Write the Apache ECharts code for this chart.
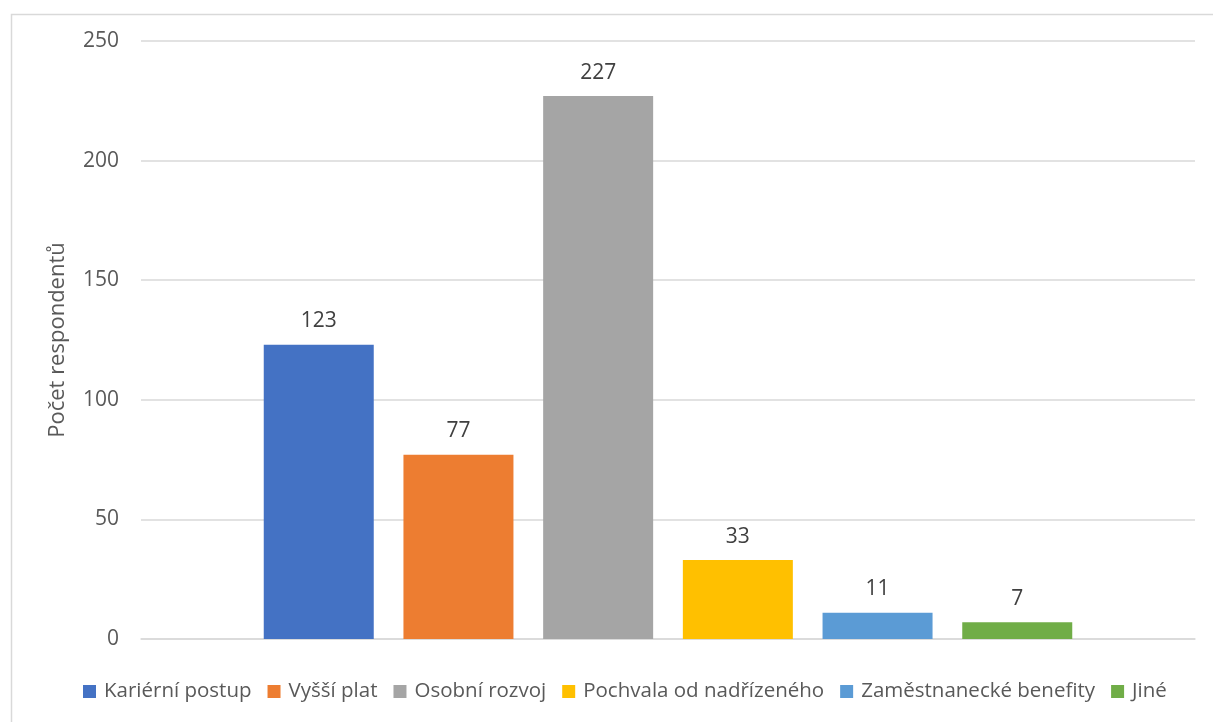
<!DOCTYPE html>
<html>
<head>
<meta charset="utf-8">
<script src="https://cdn.jsdelivr.net/npm/echarts@6/dist/echarts.min.js"></script>
<style>html,body{margin:0;padding:0;background:#fff;}#c{width:1213px;height:722px;}</style>
</head>
<body>
<div id="c"></div>
<script>
var seriesNames = ['Kariérní postup', 'Vyšší plat', 'Osobní rozvoj', 'Pochvala od nadřízeného', 'Zaměstnanecké benefity', 'Jiné'];
var seriesValues = [123, 77, 227, 33, 11, 7];
var seriesColors = ['#4472C4', '#ED7D31', '#A5A5A5', '#FFC000', '#5B9BD5', '#70AD47'];
var categories = [''];
var yAxisName = 'Počet respondentů';
var FONT = '"Open Sans", sans-serif';

var chart = echarts.init(document.getElementById('c'));
var series = seriesNames.map(function (n, i) {
  return {
    name: n,
    type: 'bar',
    data: [seriesValues[i]],
    barWidth: 110,
    barGap: '27%',
    itemStyle: { color: seriesColors[i] },
    label: { show: true, position: 'top', distance: 13, color: '#404040', fontSize: 21, fontFamily: FONT }
  };
});
chart.setOption({
  animation: false,
  textStyle: { fontFamily: FONT },
  graphic: [{
    type: 'rect', left: 9, top: 12, silent: true,
    shape: { width: 1220, height: 720 },
    style: { fill: 'none', stroke: '#D9D9D9', lineWidth: 1.5 }
  }],
  grid: { left: 141, right: 18, top: 41, bottom: 83, containLabel: false },
  legend: {
    bottom: 15, left: 78,
    itemWidth: 13, itemHeight: 13, itemGap: 16,
    icon: 'rect',
    textStyle: { color: '#595959', fontSize: 20.5, fontFamily: FONT, padding: [0, 0, 0, 3] },
    data: seriesNames
  },
  xAxis: {
    type: 'category', data: categories,
    axisLine: { show: true, lineStyle: { color: '#D9D9D9', width: 1.5 } },
    axisTick: { show: false }, axisLabel: { show: false }
  },
  yAxis: {
    type: 'value', min: 0, max: 250, interval: 50,
    name: yAxisName, nameLocation: 'middle', nameGap: 72,
    nameTextStyle: { color: '#595959', fontSize: 22, fontFamily: FONT },
    axisLine: { show: false }, axisTick: { show: false },
    axisLabel: { color: '#595959', fontSize: 21, margin: 22, fontFamily: FONT },
    splitLine: { lineStyle: { color: '#D9D9D9', width: 1.5 } }
  },
  series: series
});
</script>
</body>
</html>
